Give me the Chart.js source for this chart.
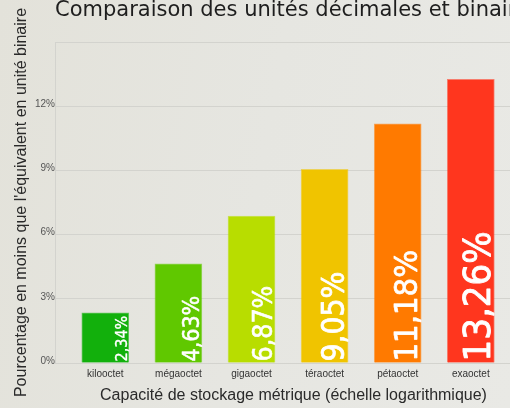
<!DOCTYPE html>
<html>
<head>
<meta charset="utf-8">
<script src="https://cdn.jsdelivr.net/npm/chart.js@4.4.1/dist/chart.umd.min.js"></script>
<style>
    html, body { margin: 0; padding: 0; width: 510px; height: 408px; overflow: hidden; }
    body { background: linear-gradient(100deg, #e3e2da 0%, #e6e6e1 50%, #e9e9e5 100%); }
    #wrap { position: relative; width: 510px; height: 408px; overflow: hidden; }
    #wrap canvas { position: absolute; left: 0; top: 0; }
</style>
</head>
<body>
<div id="wrap"><canvas id="chart" width="532" height="408" style="width:532px;height:408px"></canvas></div>
<script>
// Data
const categories = ['kilooctet', 'mégaoctet', 'gigaoctet', 'téraoctet', 'pétaoctet', 'exaoctet'];
const percentLess = [2.34, 4.63, 6.87, 9.05, 11.18, 13.26];
const yTickValues = [0, 3, 6, 9, 12, 15];

// styling
const barColors = ['#12b00c', '#60c800', '#b8dd00', '#f0c400', '#ff7a00', '#ff361e'];
const labelSizes = [16, 23, 26.5, 31.5, 32.5, 38];
const gridColor = '#d3d3ce';

// white rotated value labels inside each bar, bigger for bigger values
const barLabels = {
    id: 'barLabels',
    afterLayout(chart) {
        // the title runs past the cropped right edge, don't let it get squeezed
        if (chart.titleBlock) chart.titleBlock.right = chart.width + 200;
    },
    afterDatasetsDraw(chart) {
        const ctx = chart.ctx;
        const meta = chart.getDatasetMeta(0);
        meta.data.forEach((bar, i) => {
            const v = percentLess[i];
            const size = labelSizes[i];
            const p = bar.getProps(['x', 'y', 'base', 'width'], true);
            const text = v.toFixed(2).replace('.', ',') + '%';
            ctx.save();
            ctx.translate(p.x + p.width / 2 - 0.12 * size, p.base - 1);
            ctx.rotate(-Math.PI / 2);
            ctx.font = size + 'px "DejaVu Sans Condensed", "DejaVu Sans", sans-serif';
            ctx.fillStyle = '#ffffff';
            ctx.strokeStyle = '#ffffff';
            ctx.lineWidth = size * 0.022;
            ctx.lineJoin = 'round';
            ctx.textAlign = 'left';
            ctx.textBaseline = 'alphabetic';
            ctx.fillText(text, 0, 0);
            ctx.strokeText(text, 0, 0);
            ctx.restore();
        });
    }
};

new Chart(document.getElementById('chart'), {
    type: 'bar',
    data: {
        datasets: [{
            data: percentLess.map((v, i) => ({ x: i, y: v })),
            backgroundColor: barColors,
            borderColor: barColors.map(c => c + '99'),
            borderWidth: 1,
            barThickness: 47
        }]
    },
    options: {
        responsive: false,
        animation: false,
        layout: { padding: 0 },
        plugins: {
            legend: { display: false },
            tooltip: { enabled: false },
            title: {
                display: true,
                text: 'Comparaison des unités décimales et binaires',
                align: 'start',
                fullSize: false,
                color: '#1e1e1e',
                font: { family: '"DejaVu Sans", sans-serif', size: 21, weight: 'normal', lineHeight: 1 },
                padding: { top: 0, bottom: 21 }
            }
        },
        scales: {
            x: {
                type: 'linear',
                offset: false,
                min: -0.688,
                max: 5.837,
                afterBuildTicks: (scale) => { scale.ticks = categories.map((c, i) => ({ value: i })); },
                afterFit: (scale) => { scale.height = 45; },
                ticks: {
                    callback: (v) => categories[v],
                    autoSkip: false,
                    maxRotation: 0,
                    padding: 5,
                    color: '#333',
                    font: { family: '"Liberation Sans", Arial, sans-serif', size: 10 }
                },
                grid: { display: false, drawTicks: false },
                border: { display: false },
                title: {
                    display: true,
                    text: 'Capacité de stockage métrique (échelle logarithmique)',
                    color: '#2a2a2a',
                    font: { family: '"Liberation Sans", Arial, sans-serif', size: 16 },
                    padding: { top: 6.4, bottom: 2.4 }
                }
            },
            y: {
                min: 0,
                max: 15,
                afterBuildTicks: (scale) => { scale.ticks = yTickValues.map(v => ({ value: v })); },
                afterFit: (scale) => { scale.width = 55; },
                ticks: {
                    callback: (v) => v === 15 ? '' : v + '%',
                    padding: 0,
                    labelOffset: -2,
                    color: '#555',
                    font: { family: '"Liberation Sans", Arial, sans-serif', size: 10 }
                },
                grid: { color: gridColor, drawTicks: false },
                border: { display: true, color: gridColor },
                title: {
                    display: true,
                    text: "Pourcentage en moins que l'équivalent en unité binaire",
                    color: '#2a2a2a',
                    font: { family: '"Liberation Sans", Arial, sans-serif', size: 16 },
                    padding: { top: 12.4, bottom: 0 }
                }
            }
        }
    },
    plugins: [barLabels]
});
</script>
</body>
</html>
